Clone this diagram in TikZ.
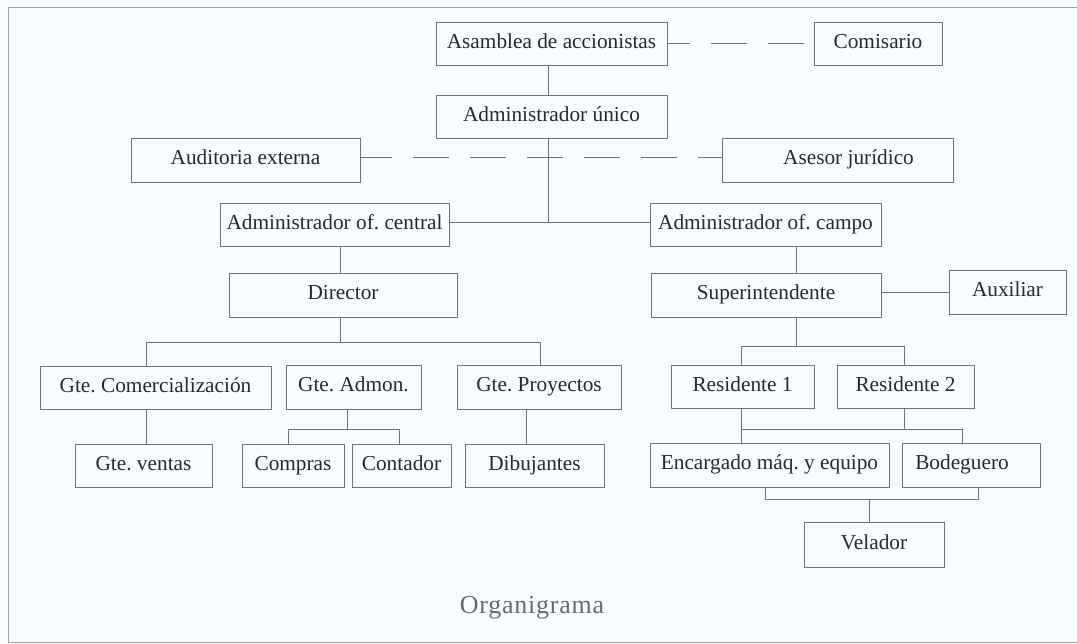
\documentclass[tikz,border=0pt]{standalone}
\usepackage{fontspec}
\setmainfont{Liberation Serif}
\newfontfamily\capfont[LetterSpace=3]{Liberation Serif}
\frenchspacing
\definecolor{bgc}{RGB}{249,252,254}
\definecolor{linec}{RGB}{115,115,118}
\definecolor{framec}{RGB}{160,160,165}
\definecolor{txtc}{RGB}{40,40,45}
\definecolor{capc}{RGB}{105,105,110}
\tikzset{
  box/.style={draw=linec, line width=0.9pt, inner sep=0pt, text=txtc,
    font=\fontsize{21.3}{25}\selectfont, anchor=center,
    text height=14pt, text depth=5pt},
  conn/.style={draw=linec, line width=0.9pt},
  dashline/.style={draw=linec, line width=0.9pt, dash pattern=on 36pt off 21pt},
  framel/.style={draw=framec, line width=1pt}
}
\newcommand{\bx}[6]{% name, left, right, top, bottom, text
  \pgfmathsetmacro{\bxw}{#3-#2}\pgfmathsetmacro{\bxh}{#5-#4}%
  \node[box, minimum width=\bxw pt, minimum height=\bxh pt] (#1) at ({(#2+#3)/2},{(#4+#5)/2}) {#6};}
\begin{document}
\begin{tikzpicture}[x=1pt,y=-1pt]
\fill[bgc] (0,0) rectangle (1077,643);
\useasboundingbox (0,0) rectangle (1077,643);
% frame
\coordinate (fTL) at (8,7);
\coordinate (fTR) at (1077,7);
\coordinate (fBL) at (8,642);
\coordinate (fBR) at (1077,642);
\draw[framel] (fTR) -- (fTL) -- (fBL) -- (fBR);
% boxes
\bx{asam}{436}{667}{22}{65}{Asamblea de accionistas}
\bx{comis}{814}{942}{22}{65}{Comisario}
\bx{unico}{436}{667}{95}{138}{Administrador único}
\bx{audit}{131}{360}{138}{182}{Auditoria externa}
\bx{asesor}{722}{953}{138}{182}{\hspace*{22pt}Asesor jurídico}
\bx{central}{220}{449}{203}{246}{Administrador of. central}
\bx{campo}{650}{881}{203}{246}{Administrador of. campo}
\bx{director}{229}{457}{273}{317}{Director}
\bx{super}{651}{881}{273}{317}{Superintendente}
\bx{aux}{949}{1066}{270}{314}{Auxiliar}
\bx{gcom}{40}{271}{366}{409}{Gte. Comercialización}
\bx{gadm}{286}{421}{365}{409}{Gte. Admon.}
\bx{gproy}{457}{621}{365}{409}{Gte. Proyectos}
\bx{res1}{671}{814}{365}{408}{Residente 1}
\bx{res2}{837}{974}{365}{408}{Residente 2}
\bx{gven}{75}{212}{444}{487}{Gte. ventas}
\bx{compras}{242}{344}{444}{487}{Compras}
\bx{contador}{352}{451}{444}{487}{Contador}
\bx{dibuj}{465}{604}{444}{487}{Dibujantes}
\bx{encarg}{650}{889}{443}{487}{Encargado máq. y equipo}
\bx{bodeg}{902}{1040}{443}{487}{Bodeguero\hspace*{18pt}}
\bx{velador}{804}{944}{522}{567}{Velador}
% caption
\node[text=capc, font=\capfont\fontsize{26}{30}\selectfont, anchor=base] (cap) at (532,613) {Organigrama};
% dashed staff lines
\draw[dashline, dash phase=13pt] (asam.east) -- (comis.west);
\coordinate (dA) at (0,157);
\draw[dashline, dash phase=4pt] (audit.east |- dA) -- (asesor.west |- dA);
% main trunk
\coordinate (jTop) at (548,222);
\draw[conn] (asam.south -| jTop) -- (unico.north -| jTop);
\draw[conn] (unico.south -| jTop) -- (jTop);
\draw[conn] (central.east |- jTop) -- (campo.west |- jTop);
% left branch
\coordinate (dStem) at (340,342);
\coordinate (bL) at (146,342);
\coordinate (bR) at (540,342);
\draw[conn] (central.south -| dStem) -- (director.north -| dStem);
\draw[conn] (director.south -| dStem) -- (dStem);
\draw[conn] (gcom.north -| bL) -- (bL) -- (bR) -- (gproy.north -| bR);
\draw[conn] (gcom.south -| bL) -- (gven.north -| bL);
\coordinate (aS) at (347,429);
\coordinate (aL) at (288,429);
\coordinate (aR) at (399,429);
\draw[conn] (gadm.south -| aS) -- (aS);
\draw[conn] (compras.north -| aL) -- (aL) -- (aR) -- (contador.north -| aR);
\coordinate (pX) at (526,429);
\draw[conn] (gproy.south -| pX) -- (dibuj.north -| pX);
% right branch
\coordinate (sX) at (796.5,346);
\draw[conn] (campo.south -| sX) -- (super.north -| sX);
\draw[conn] (super.south -| sX) -- (sX);
\draw[conn] (super.east |- aux.west) -- (aux.west);
\coordinate (r1) at (741.5,346);
\coordinate (r2) at (904,346);
\draw[conn] (res1.north -| r1) -- (r1) -- (r2) -- (res2.north -| r2);
\coordinate (q1) at (741.5,429);
\coordinate (q2) at (962,429);
\draw[conn] (res1.south -| q1) -- (encarg.north -| q1);
\draw[conn] (q1) -- (q2) -- (bodeg.north -| q2);
\draw[conn] (res2.south -| r2) -- (r2 |- q1);
\coordinate (v1) at (765.5,499);
\coordinate (v2) at (978,499);
\coordinate (vm) at (869.5,499);
\draw[conn] (encarg.south -| v1) -- (v1) -- (v2) -- (bodeg.south -| v2);
\draw[conn] (vm) -- (velador.north -| vm);
\end{tikzpicture}
\end{document}
